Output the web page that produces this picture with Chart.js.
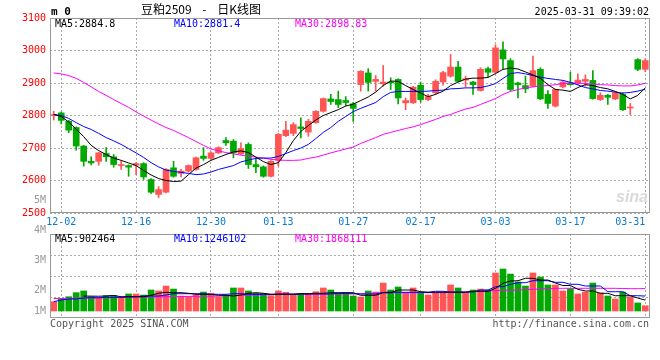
<!DOCTYPE html>
<html><head><meta charset="utf-8">
<script src="https://cdn.jsdelivr.net/npm/chart.js@4.4.1/dist/chart.umd.min.js"></script>
<style>
html,body{margin:0;padding:0;background:#fff;}
#wrap{position:relative;width:660px;height:360px;overflow:hidden;background:#fff;}
canvas{position:absolute;left:0;top:0;}
.t{position:absolute;white-space:nowrap;font-family:"DejaVu Sans Mono",monospace;font-size:10px;line-height:10px;transform:translateY(-50%);}
</style></head><body>
<div id="wrap">
<canvas id="pc" width="660" height="360"></canvas>
<canvas id="vc" width="660" height="360"></canvas>
<div class="t" style="left:51px;top:11px;font-weight:bold;font-size:11px;line-height:11px;color:#000;">m 0</div>
<div class="t" style="left:141px;top:9px;font-family:'Noto Sans CJK SC',sans-serif;font-size:12px;line-height:12px;word-spacing:8px;color:#000;">豆粕2509 - 日K线图</div>
<div class="t" style="right:11px;top:12px;color:#000;">2025-03-31 09:39:02</div>
<div class="t" style="left:55px;top:24px;color:#000;">MA5:2884.8</div>
<div class="t" style="left:174px;top:24px;color:#0000ff;">MA10:2881.4</div>
<div class="t" style="left:295px;top:24px;color:#ff00ff;">MA30:2898.83</div>
<div class="t" style="left:55px;top:239px;color:#000;">MA5:902464</div>
<div class="t" style="left:174px;top:239px;color:#0000ff;">MA10:1246102</div>
<div class="t" style="left:295px;top:239px;color:#ff00ff;">MA30:1868111</div>
<div class="t" style="right:12px;top:197px;font-family:'Liberation Sans',sans-serif;font-style:italic;font-weight:bold;font-size:16px;line-height:16px;color:#d9d9d9;">sina</div>
<div class="t" style="left:50px;top:324px;color:#555;">Copyright 2025 SINA.COM</div>
<div class="t" style="right:11px;top:324px;color:#555;">http://finance.sina.com.cn</div>
</div>
<script>
const dates = ['11-29','12-02','12-03','12-04','12-05','12-06','12-09','12-10','12-11','12-12','12-13','12-16','12-17','12-18','12-19','12-20','12-23','12-24','12-25','12-26','12-27','12-30','12-31','01-02','01-03','01-06','01-07','01-08','01-09','01-10','01-13','01-14','01-15','01-16','01-17','01-20','01-21','01-22','01-23','01-24','01-27','02-05','02-06','02-07','02-10','02-11','02-12','02-13','02-14','02-17','02-18','02-19','02-20','02-21','02-24','02-25','02-26','02-27','02-28','03-03','03-04','03-05','03-06','03-07','03-10','03-11','03-12','03-13','03-14','03-17','03-18','03-19','03-20','03-21','03-24','03-25','03-26','03-27','03-28','03-31'];
const xTickLabels = ['12-02','12-16','12-30','01-13','01-27','02-17','03-03','03-17','03-31'];

const opens  = [2800,2808,2782,2763,2706,2659,2659,2683,2673,2646, 2646,2647,2652,2603,2557,2564,2639,2622,2629,2634, 2675,2668,2685,2723,2721,2682,2711,2649,2642,2613, 2662,2738,2745,2765,2749,2778,2813,2851,2849,2846, 2836,2895,2931,2905,2898,2903,2911,2839,2839,2893, 2849,2870,2903,2921,2949,2909,2903,2877,2944,2933, 3002,2969,2900,2892,2890,2942,2865,2829,2888,2900, 2900,2905,2908,2849,2862,2851,2865,2823,2972,2942];
const highs  = [2813,2811,2785,2765,2708,2673,2687,2701,2680,2659, 2648,2655,2655,2606,2581,2637,2659,2634,2648,2672, 2701,2688,2704,2732,2726,2716,2716,2670,2645,2661, 2745,2782,2778,2793,2788,2815,2854,2865,2875,2858, 2840,2938,2944,2923,2954,2916,2913,2854,2890,2903, 2865,2910,2936,2988,2967,2921,2905,2947,2949,3018, 3027,2975,2903,2921,2983,2947,2877,2882,2906,2933, 2928,2925,2938,2870,2865,2873,2870,2837,2975,2974];
const lows   = [2786,2774,2747,2693,2644,2648,2647,2659,2641,2634, 2613,2618,2603,2560,2547,2562,2610,2611,2626,2632, 2662,2665,2683,2708,2670,2680,2637,2624,2610,2611, 2644,2735,2738,2731,2736,2776,2810,2834,2824,2830, 2782,2875,2875,2875,2890,2880,2836,2818,2837,2841, 2846,2865,2893,2918,2903,2888,2865,2875,2919,2930, 2944,2875,2854,2870,2888,2849,2822,2826,2885,2893, 2895,2890,2850,2846,2834,2849,2815,2803,2938,2935];
const closes = [2802,2785,2755,2706,2659,2654,2685,2673,2649,2648, 2641,2652,2611,2564,2572,2634,2613,2629,2646,2670, 2668,2685,2701,2716,2685,2698,2649,2642,2613,2659, 2742,2755,2772,2760,2782,2813,2852,2843,2834,2840, 2822,2936,2902,2911,2903,2900,2854,2846,2887,2849, 2858,2905,2932,2949,2905,2913,2895,2942,2933,3008, 2974,2880,2895,2882,2938,2851,2837,2880,2903,2895, 2909,2911,2852,2862,2856,2870,2818,2826,2942,2969];

const ma5  = [2803,2797,2780,2758,2735,2708,2692,2680,2669,2662, 2654,2646,2631,2617,2606,2600,2597,2598,2618,2638, 2649,2662,2671,2680,2688,2691,2686,2672,2658,2649, 2655,2686,2723,2751,2769,2786,2800,2809,2818,2829, 2835,2846,2857,2872,2892,2906,2905,2892,2880,2869, 2858,2865,2875,2892,2903,2912,2915,2915,2917,2929, 2942,2946,2943,2934,2925,2914,2895,2880,2878,2874, 2886,2895,2892,2886,2882,2874,2865,2851,2862,2885];
const ma10 = [2803,2800,2791,2778,2766,2757,2745,2732,2722,2711, 2698,2685,2671,2655,2642,2632,2628,2625,2622,2618, 2620,2626,2634,2640,2646,2657,2663,2668,2669,2669, 2674,2683,2692,2700,2711,2729,2748,2763,2782,2797, 2812,2822,2831,2840,2858,2871,2874,2874,2874,2874, 2875,2877,2878,2882,2883,2885,2885,2886,2891,2898, 2914,2929,2932,2928,2923,2918,2914,2911,2908,2902, 2894,2886,2882,2877,2875,2872,2869,2871,2875,2881];
const ma30 = [2931,2928,2923,2914,2902,2888,2874,2862,2849,2837, 2825,2811,2798,2786,2774,2763,2754,2743,2732,2720, 2708,2697,2691,2686,2682,2678,2675,2672,2669,2665, 2663,2662,2662,2663,2668,2672,2678,2685,2691,2697, 2703,2714,2723,2732,2742,2748,2754,2760,2765,2772, 2780,2788,2797,2803,2812,2820,2825,2834,2843,2852, 2865,2874,2880,2885,2888,2891,2892,2895,2898,2900, 2900,2898,2897,2895,2894,2892,2891,2891,2894,2899];

const volumes = [780000,1060000,1190000,1530000,1670000,1190000,1060000,1280000,1280000,1110000, 1420000,1420000,1330000,1750000,1670000,2080000,1830000,1250000,1190000,1330000, 1580000,1470000,1190000,1330000,1920000,1920000,1670000,1470000,1470000,1280000, 1670000,1560000,1330000,1470000,1470000,1610000,1920000,1750000,1470000,1530000, 1250000,1170000,1670000,1580000,2330000,1750000,2000000,1530000,1920000,1530000, 1330000,1530000,1530000,2170000,1920000,1530000,1750000,1830000,1750000,3170000, 3500000,3080000,2420000,2080000,3170000,2830000,2170000,2170000,1670000,1860000, 1420000,1580000,2330000,1500000,1250000,1000000,1580000,1170000,670000,440000];
const volMa5 = [null,null,null,null,1246000,1240000,1230000,1250000,1296000,1190000, 1190000,1190000,1190000,1310000,1475000,1560000,1525000,1525000,1475000,1390000, 1390000,1390000,1310000,1310000,1250000,1330000,1475000,1525000,1475000,1390000, 1390000,1390000,1390000,1440000,1440000,1475000,1475000,1525000,1525000,1525000, 1525000,1310000,1310000,1310000,1525000,1525000,1750000,1750000,1750000,1610000, 1560000,1560000,1560000,1560000,1560000,1560000,1640000,1640000,1640000,1890000, 2310000,2500000,2525000,2725000,2725000,2580000,2580000,2330000,2125000,2125000, 1810000,1670000,1670000,1475000,1475000,1275000,1275000,1275000,1080000,902464];
const volMa10 = [775000,917000,1000000,1000000,1083000,1108000,1108000,1142000,1142000,1142000, 1190000,1190000,1250000,1250000,1250000,1333000,1442000,1442000,1442000,1442000, 1442000,1390000,1390000,1390000,1442000,1442000,1390000,1390000,1390000,1390000, 1417000,1417000,1417000,1417000,1417000,1417000,1417000,1417000,1475000,1475000, 1475000,1417000,1417000,1417000,1558000,1558000,1558000,1558000,1558000,1558000, 1558000,1642000,1642000,1583000,1583000,1583000,1583000,1750000,1750000,2025000, 2025000,2225000,2358000,2358000,2525000,2525000,2525000,2392000,2392000,2225000, 2225000,2083000,2083000,2083000,1608000,1608000,1608000,1275000,1275000,1246102];
const volMa30 = [1042000,1042000,1058000,1067000,1083000,1083000,1083000,1100000,1117000,1125000, 1142000,1158000,1167000,1175000,1183000,1192000,1200000,1208000,1217000,1225000, 1233000,1242000,1250000,1267000,1283000,1300000,1317000,1333000,1350000,1367000, 1375000,1383000,1392000,1400000,1408000,1417000,1417000,1417000,1417000,1417000, 1417000,1433000,1458000,1483000,1500000,1517000,1525000,1525000,1525000,1525000, 1525000,1525000,1525000,1542000,1567000,1583000,1617000,1650000,1683000,1700000, 1717000,1733000,1750000,1783000,1808000,1833000,1858000,1883000,1892000,1892000, 1892000,1892000,1892000,1892000,1892000,1892000,1875000,1860000,1860000,1868111];

const priceMin = 2500, priceMax = 3100, priceStep = 100;
const volTickLabels = ['1M','2M','3M','4M','5M'];

// ---- styles / layout ----
const UP = '#ff5555', DOWN = '#00a800';
const GRID = '#aaaaaa', BORDER = '#999999';
const MONO = '"DejaVu Sans Mono", monospace';
const VOL_MIN = -583000, VOL_MAX = 6417000;

const isUp = i => closes[i] >= opens[i];
const candleColor = c => isUp(c.dataIndex) ? UP : DOWN;
const xGridColor = c => (c.index !== undefined && xTickLabels.includes(dates[c.index])) ? GRID : 'rgba(0,0,0,0)';

const boxPlugin = {
  id: 'box',
  afterDraw(chart) {
    const {ctx, chartArea: a} = chart;
    ctx.save();
    ctx.strokeStyle = BORDER; ctx.lineWidth = 1; ctx.setLineDash([]);
    const l = Math.round(a.left) + 0.5, t = Math.round(a.top) + 0.5;
    const r = Math.round(a.right) + 0.5, b = Math.round(a.bottom) - 0.5;
    ctx.strokeRect(l, t, r - l, b - t);
    ctx.restore();
  }
};

const volLabelPlugin = {
  id: 'volLabels',
  afterDraw(chart) {
    const ctx = chart.ctx;
    ctx.save();
    ctx.fillStyle = '#999'; ctx.font = '10px ' + MONO;
    ctx.textAlign = 'right'; ctx.textBaseline = 'middle';
    volTickLabels.forEach((lab, i) => {
      const y = Math.min(319.8 - i * 29.8, chart.chartArea.bottom - 7);
      ctx.fillText(lab, 46, y);
    });
    ctx.restore();
  }
};

const lineDs = (data, color) => ({type: 'line', data, borderColor: color, borderWidth: 1, pointRadius: 0, tension: 0, spanGaps: true, order: 0});

const common = {
  responsive: false, animation: false, devicePixelRatio: 1,
  plugins: {legend: {display: false}, tooltip: {enabled: false}}
};

new Chart(document.getElementById('pc'), {
  type: 'bar',
  data: {
    labels: dates,
    datasets: [
      lineDs(ma5, '#000000'),
      lineDs(ma10, '#0000ff'),
      lineDs(ma30, '#ff00ff'),
      {type: 'bar', data: opens.map((o, i) => [o, closes[i]]), backgroundColor: candleColor, barThickness: 6, grouped: false, minBarLength: 1, order: 2},
      {type: 'bar', data: lows.map((l, i) => [l, highs[i]]), backgroundColor: candleColor, barThickness: 1, grouped: false, order: 3}
    ]
  },
  options: Object.assign({}, common, {
    layout: {padding: {top: 18, right: 11, bottom: 127, left: 0}},
    scales: {
      x: {
        offset: true,
        grid: {color: xGridColor, drawTicks: false, offset: false},
        border: {display: false, dash: [2, 2]},
        ticks: {autoSkip: false, maxRotation: 0, minRotation: 0, align: 'inner', padding: 3,
          color: '#0a7ad0', font: {family: MONO, size: 10},
          callback: (v, i) => xTickLabels.includes(dates[i]) ? dates[i] : ''},
        afterFit: s => { s.height = 20; }
      },
      y: {
        min: priceMin, max: priceMax,
        ticks: {stepSize: priceStep, color: '#ff0000', padding: 4, font: {family: MONO, size: 10},
          callback: v => String(v)},
        grid: {color: GRID, drawTicks: false},
        border: {display: false, dash: [2, 2]},
        afterFit: s => { s.width = 50; }
      }
    }
  }),
  plugins: [boxPlugin]
});

new Chart(document.getElementById('vc'), {
  type: 'bar',
  data: {
    labels: dates,
    datasets: [
      lineDs(volMa5, '#000000'),
      lineDs(volMa10, '#0000ff'),
      lineDs(volMa30, '#ff00ff'),
      {type: 'bar', data: volumes, backgroundColor: candleColor, barThickness: 6, order: 2}
    ]
  },
  options: Object.assign({}, common, {
    layout: {padding: {top: 234, right: 11, bottom: 42, left: 0}},
    scales: {
      x: {
        offset: true,
        grid: {color: xGridColor, drawTicks: false, offset: false},
        border: {display: false, dash: [2, 2]},
        ticks: {display: false, autoSkip: false},
        afterFit: s => { s.height = 0; }
      },
      y: {
        min: VOL_MIN, max: VOL_MAX,
        ticks: {display: false},
        grid: {color: GRID, drawTicks: false},
        border: {display: false, dash: [2, 2]},
        afterBuildTicks: s => { s.ticks = [1, 2, 3].map(k => ({value: VOL_MIN + (VOL_MAX - VOL_MIN) * k / 4})); },
        afterFit: s => { s.width = 50; }
      }
    }
  }),
  plugins: [boxPlugin, volLabelPlugin]
});
</script>
</body></html>
